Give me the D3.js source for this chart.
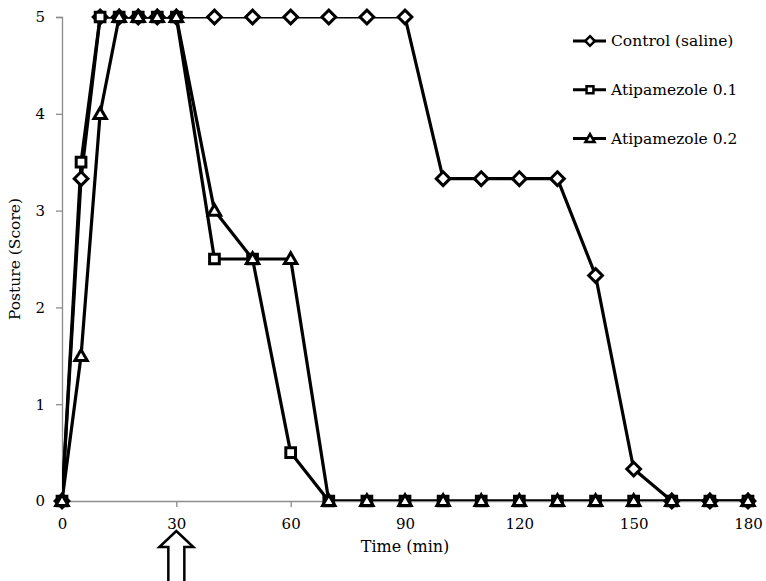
<!DOCTYPE html>
<html>
<head>
<meta charset="utf-8">
<script src="https://cdn.jsdelivr.net/npm/d3@7"></script>
<style>
  body { margin: 0; background: #fff; }
  svg text { font-family: "DejaVu Serif", serif; fill: #000; }
</style>
</head>
<body>
<svg id="chart" width="766" height="581"></svg>
<script>
// time points (min)
const times = [0, 5, 10, 15, 20, 25, 30, 40, 50, 60, 70, 80, 90, 100, 110, 120, 130, 140, 150, 160, 170, 180];
const control = [0, 3.33, 5, 5, 5, 5, 5, 5, 5, 5, 5, 5, 5, 3.33, 3.33, 3.33, 3.33, 2.33, 0.33, 0, 0, 0];
const atip01 = [0, 3.5, 5, 5, 5, 5, 5, 2.5, 2.5, 0.5, 0, 0, 0, 0, 0, 0, 0, 0, 0, 0, 0, 0];
const atip02 = [0, 1.5, 4, 5, 5, 5, 5, 3, 2.5, 2.5, 0, 0, 0, 0, 0, 0, 0, 0, 0, 0, 0, 0];
const seriesNames = ['Control (saline)', 'Atipamezole 0.1', 'Atipamezole 0.2'];
const xTicks = [0, 30, 60, 90, 120, 150, 180];
const yTicks = [0, 1, 2, 3, 4, 5];
const arrowAt = 30; // injection time

const margin = {top: 17, right: 18, bottom: 80, left: 62};
const width = 766 - margin.left - margin.right;
const height = 581 - margin.top - margin.bottom;

const x = d3.scaleLinear().domain([0, 180]).range([0, width]);
const y = d3.scaleLinear().domain([0, 5]).range([height, 0]);

const svg = d3.select('#chart');
const g = svg.append('g').attr('transform', `translate(${margin.left},${margin.top})`);

g.append('clipPath').attr('id', 'plot-clip')
    .append('rect').attr('x', 0).attr('y', 0).attr('width', width + 10).attr('height', height);

// axes
const xAxis = g.append('g')
    .attr('transform', `translate(0,${height})`)
    .call(d3.axisBottom(x).tickValues(xTicks).tickSize(6).tickPadding(11).tickSizeOuter(0));
const yAxis = g.append('g')
    .call(d3.axisLeft(y).tickValues(yTicks).tickFormat(d3.format('d')).tickSize(6).tickPadding(11));
[xAxis, yAxis].forEach(a => {
    a.selectAll('path, line').attr('stroke', '#8c8c8c').attr('stroke-width', 1.3);
    a.selectAll('text').style('font-size', '15px').style('font-family', '"DejaVu Serif", serif');
});

const seriesData = [control, atip01, atip02].map((vals, i) => ({
    name: seriesNames[i],
    points: times.map((t, j) => ({t: t, v: vals[j]}))
}));

const line = d3.line().x(d => x(d.t)).y(d => y(d.v));

const symbolTypes = [d3.symbolDiamond2 || d3.symbolDiamond, d3.symbolSquare2 || d3.symbolSquare, d3.symbolTriangle2 || d3.symbolTriangle];
const symbolSizes = [120, 120, 110];

seriesData.forEach((s, i) => {
    g.append('path')
        .datum(s.points)
        .attr('fill', 'none')
        .attr('stroke', '#000')
        .attr('stroke-width', 3.2)
        .attr('stroke-linejoin', 'round')
        .attr('clip-path', 'url(#plot-clip)')
        .attr('d', line);
});

seriesData.forEach((s, i) => {
    g.append('g').selectAll('path')
        .data(s.points)
        .join('path')
        .attr('transform', d => `translate(${x(d.t)},${y(d.v) + (i === 2 ? 1 : 0)})`)
        .attr('d', d3.symbol().type(symbolTypes[i]).size(symbolSizes[i]))
        .attr('fill', '#fff')
        .attr('stroke', '#000')
        .attr('stroke-width', 3);
});

// legend
const legend = g.append('g').attr('transform', `translate(${511},${24})`);
seriesNames.forEach((name, i) => {
    const row = legend.append('g').attr('transform', `translate(0,${i * 48.7})`);
    row.append('line').attr('x1', 0).attr('x2', 33).attr('stroke', '#000').attr('stroke-width', 3);
    row.append('path').attr('transform', `translate(17,${i === 2 ? 1 : 0})`)
        .attr('d', d3.symbol().type(symbolTypes[i]).size(60))
        .attr('fill', '#fff').attr('stroke', '#000').attr('stroke-width', 2.5);
    row.append('text').attr('x', 38).attr('dy', '0.35em').style('font-size', '15.5px').text(name);
});

// axis titles
g.append('text')
    .attr('x', x(90))
    .attr('y', height + 51)
    .attr('text-anchor', 'middle')
    .style('font-size', '16px')
    .text('Time (min)');
g.append('text')
    .attr('transform', `translate(${-42},${height / 2}) rotate(-90)`)
    .attr('text-anchor', 'middle')
    .style('font-size', '15.5px')
    .text('Posture (Score)');

// arrow marking the injection at 30 min
const ax = x(arrowAt);
const arrowTop = height + 30;
const arrow = d3.path();
arrow.moveTo(ax, arrowTop);
arrow.lineTo(ax + 17, arrowTop + 16);
arrow.lineTo(ax + 8, arrowTop + 16);
arrow.lineTo(ax + 8, arrowTop + 60);
arrow.lineTo(ax - 8, arrowTop + 60);
arrow.lineTo(ax - 8, arrowTop + 16);
arrow.lineTo(ax - 17, arrowTop + 16);
arrow.closePath();
g.append('path').attr('d', arrow.toString())
    .attr('fill', '#fff').attr('stroke', '#000').attr('stroke-width', 2.5);
</script>
</body>
</html>
